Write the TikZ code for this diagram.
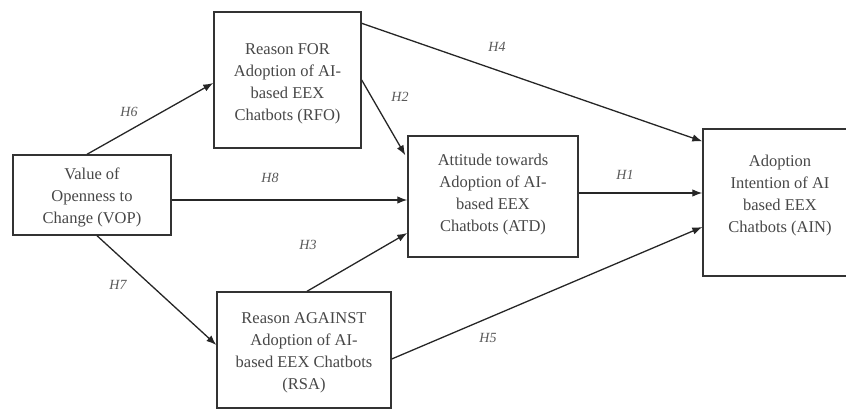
\documentclass[tikz,border=0pt]{standalone}
\usepackage{fontspec}
\setmainfont{Liberation Serif}
\usetikzlibrary{arrows.meta}

\tikzset{
  box/.style={draw=black!80, line width=1.4pt, fill=white, inner sep=0pt},
  boxtext/.style={align=center, text=black!72,
    font=\fontsize{16.5pt}{22pt}\selectfont},
  link/.style={draw=black!85, line width=1.3pt,
    -{Latex[length=10pt,width=7.5pt]}},
  hyp/.style={text=black!65, font=\fontsize{14pt}{16pt}\selectfont\itshape}
}

\begin{document}
\begin{tikzpicture}[x=1pt, y=-1pt]
  \useasboundingbox (0,0) rectangle (846,412);

  % constructs
  \node[box, minimum width=158pt, minimum height=80pt] (vop) at (92,195) {};
  \node[boxtext] (vopt) at (92,197) {Value of\\Openness to\\Change (VOP)};

  \node[box, minimum width=147pt, minimum height=136pt] (rfo) at (287.5,80) {};
  \node[boxtext] (rfot) at (287.5,84) {Reason FOR\\Adoption of AI-\\based EEX\\Chatbots (RFO)};

  \node[box, minimum width=170pt, minimum height=121pt] (atd) at (493,196.5) {};
  \node[boxtext] (atdt) at (493,195) {Attitude towards\\Adoption of AI-\\based EEX\\Chatbots (ATD)};

  \node[box, minimum width=154pt, minimum height=147pt] (ain) at (780,202.5) {};
  \node[boxtext] (aint) at (780,196) {Adoption\\Intention of AI\\based EEX\\Chatbots (AIN)};

  \node[box, minimum width=174pt, minimum height=116pt] (rsa) at (304,350) {};
  \node[boxtext] (rsat) at (304,353) {Reason AGAINST\\Adoption of AI-\\based EEX Chatbots\\(RSA)};

  % hypothesised paths
  \draw[link] ([xshift=-5pt]vop.north) -- ([yshift=-3pt]rfo.west);
  \draw[link] ([xshift=5pt]vop.south) -- ([yshift=5pt]rsa.west);
  \draw[link] ([yshift=-5pt]vop.east) -- ([yshift=-5pt]vop.east -| atd.west);
  \draw[link] (rfo.east) -- ([xshift=-2pt,yshift=-20pt]atd.north west);
  \draw[link] ([xshift=3pt]rsa.north) -- ([yshift=-36.5pt]atd.west);
  \draw[link] ([yshift=-12pt]rfo.north east) -- ([yshift=-13pt]ain.north west);
  \draw[link] ([yshift=3.5pt]atd.east) -- ([yshift=3.5pt]atd.east -| ain.west);
  \draw[link] ([yshift=-9pt]rsa.east) -- ([yshift=-24.5pt]ain.west);

  % path labels
  \node[hyp] (lh6) at (129,112) {H6};
  \node[hyp] (lh7) at (118,285) {H7};
  \node[hyp] (lh8) at (270,178) {H8};
  \node[hyp] (lh2) at (400,97) {H2};
  \node[hyp] (lh3) at (308,245) {H3};
  \node[hyp] (lh4) at (497,47) {H4};
  \node[hyp] (lh1) at (625,175) {H1};
  \node[hyp] (lh5) at (488,338) {H5};
\end{tikzpicture}
\end{document}
